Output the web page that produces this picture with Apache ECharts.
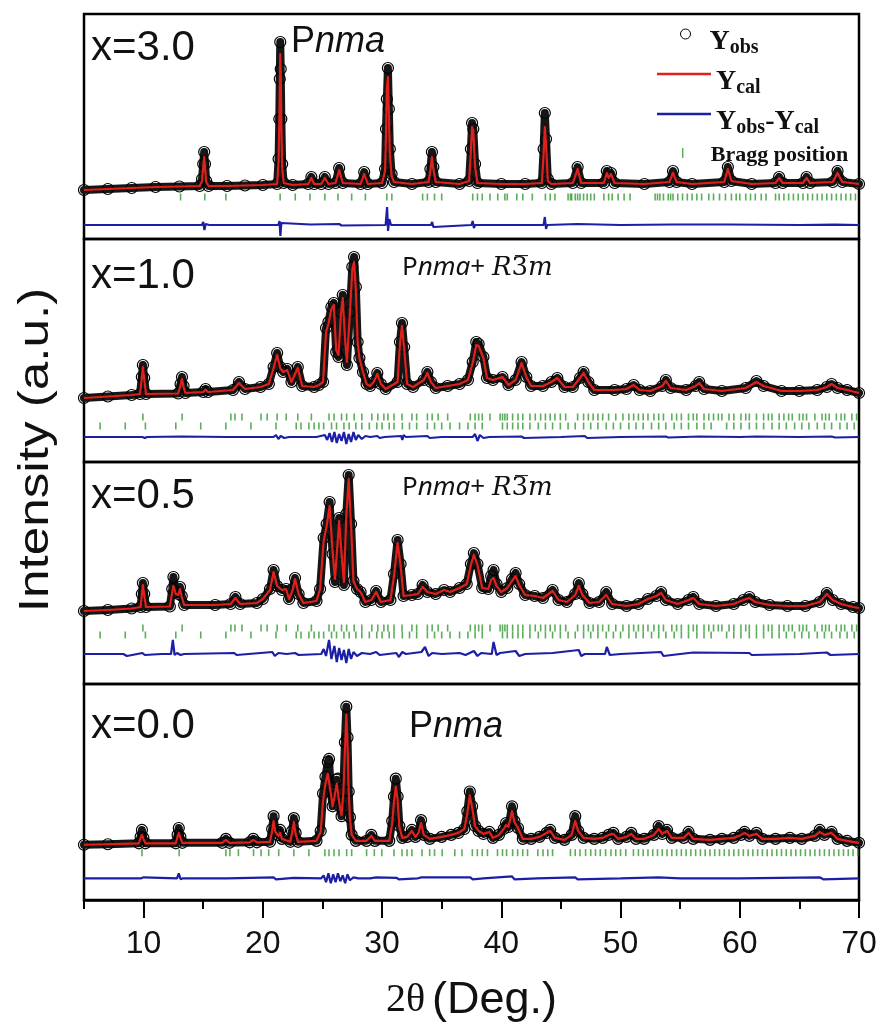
<!DOCTYPE html>
<html><head><meta charset="utf-8">
<script src="https://cdn.jsdelivr.net/npm/echarts@6/dist/echarts.min.js"></script>
<style>html,body{margin:0;padding:0;background:#fff}#c{width:883px;height:1024px}</style>
</head><body><div id="c"></div><script>
// ---------------- DATA ----------------
const xTickLabels = [10, 20, 30, 40, 50, 60, 70];
const xMinorTicks = [5, 15, 25, 35, 45, 55, 65];
const panelLabels = ['x=3.0', 'x=1.0', 'x=0.5', 'x=0.0'];
const phaseLabels = ['Pnma', 'Pnma+ R3m', 'Pnma+ R3m', 'Pnma'];
const legendNames = ['Yobs', 'Ycal', 'Yobs-Ycal', 'Bragg position'];

// profile rows: [2theta, Yobs, Ycal]
const p30_profile = [[5.0,49,49],[7.0,50,50],[9.0,51,51],[11.0,52,52],[13.0,52.5,52.5],[14.7,53,53],[14.9,60,58],[15.0,75,72],[15.08,87,82],[15.15,75,72],[15.25,58,57],[15.45,53,53],[17.0,53,53],[18.5,53.5,53.5],[20.0,54,54],[21.2,55,55],[21.32,80,78],[21.38,120,115],[21.42,160,150],[21.46,197,185],[21.5,170,165],[21.55,120,115],[21.62,75,72],[21.75,56,56],[22.5,54,54],[23.8,55,55],[24.07,62,61],[24.3,55,55],[24.9,55,55],[25.2,62,61],[25.5,55,55],[26.1,56,56],[26.4,71,69],[26.7,56,56],[28.2,55,55],[28.5,67,65],[28.8,55,55],[30.0,56,56],[30.25,70,68],[30.33,110,105],[30.4,140,150],[30.49,171,162],[30.57,130,125],[30.65,90,85],[30.8,65,63],[31.0,57,57],[32.5,55,55],[33.9,57,57],[34.05,70,68],[34.18,87,82],[34.3,72,70],[34.5,57,57],[36.5,55,55],[37.3,58,58],[37.45,90,88],[37.55,116,112],[37.65,110,108],[37.8,75,72],[38.0,56,56],[40.0,55,55],[42.0,55,55],[43.4,56,56],[43.55,90,85],[43.65,126,112],[43.75,100,95],[43.9,60,58],[44.2,55,55],[46.0,56,56],[46.4,72,70],[46.7,56,56],[48.6,56,56],[48.85,68,66],[49.0,62,61],[49.2,66,65],[49.5,56,56],[52.0,55,55],[54.1,57,57],[54.4,68,66],[54.7,57,57],[56.0,55,55],[58.7,57,57],[59.0,72,70],[59.3,58,58],[61.0,55,55],[63.0,56,56],[63.3,62,61],[63.6,56,56],[65.3,56,56],[65.6,62,61],[65.9,56,56],[67.8,57,57],[68.2,68,66],[68.6,57,57],[70.0,55,55]];
const p10_profile = [[5.0,64,64],[7.0,65.5,65.5],[9.0,67,67],[9.7,68,68],[9.85,85,84],[9.94,97,95],[10.05,84,83],[10.2,68,68],[12.9,68.5,68.5],[13.1,78,77],[13.22,85,83],[13.35,76,75],[13.5,69,69],[15.0,70,70],[15.2,73,72.5],[15.4,70,70],[17.5,72,72],[18.0,80,79],[18.5,73,73],[19.8,75,75],[20.5,78,78],[20.9,95,94],[21.2,109,107],[21.45,95,94],[21.7,90,90],[22.05,93,92],[22.4,80,80],[22.93,95,94],[23.3,76,76],[24.3,75,75],[24.7,77,77],[25.05,80,80],[25.3,134,130],[25.5,140,138],[25.75,155,153],[25.95,159,157],[26.15,110,112],[26.35,105,107],[26.55,150,148],[26.7,167,164],[26.9,120,122],[27.05,97,100],[27.3,150,148],[27.5,195,192],[27.65,205,200],[27.8,175,172],[27.95,120,120],[28.1,104,104],[28.4,90,90],[28.7,78,78],[29.0,76,76],[29.3,80,80],[29.6,89,88],[29.9,78,78],[30.3,73,73],[31.3,80,80],[31.5,120,118],[31.67,139,136],[31.85,115,114],[32.1,78,78],[32.6,75,75],[33.5,82,82],[33.8,90,89],[34.1,80,80],[34.5,74,74],[35.5,76,76],[36.5,78,78],[37.2,82,82],[37.6,100,99],[37.9,120,117],[38.1,118,116],[38.5,105,104],[38.8,84,84],[39.3,82,82],[40.1,85,85],[40.6,77,77],[41.2,82,82],[41.7,100,99],[42.1,85,85],[42.5,76,76],[43.5,76,76],[44.2,80,80],[44.7,84,84],[45.3,75,75],[46.0,75,75],[46.6,84,84],[46.9,90,89],[47.3,80,80],[47.8,72,72],[49.5,72,72],[50.5,73,73],[51.1,77,77],[51.6,72,72],[52.5,71,71],[53.5,76,76],[53.8,82,81],[54.2,74,74],[55.5,72,72],[56.3,76,76],[56.6,80,79],[57.0,73,73],[58.5,71,71],[60.5,74,74],[61.4,81,80],[62.0,76,76],[63.5,71,71],[65.0,71,71],[66.5,72,72],[67.3,75,75],[67.7,78,78],[68.2,74,74],[69.0,72,72],[70.0,69,69]];
const p05_profile = [[5.0,73,73],[7.0,74,74],[9.0,75.5,75.5],[9.75,77,77],[9.85,90,89],[9.94,101,99],[10.05,90,89],[10.2,77,77],[12.2,77.5,77.5],[12.4,95,92],[12.5,107,98],[12.7,92,90],[12.9,90,89],[13.05,97,95],[13.2,88,87],[13.4,79,79],[16.0,79,79],[17.3,80,80],[17.7,87,86],[18.1,80,80],[19.5,81,81],[20.0,85,85],[20.6,95,94],[20.9,114,112],[21.2,98,98],[21.6,94,94],[21.95,95,95],[22.2,85,85],[22.5,95,94],[22.7,106,105],[23.0,90,90],[23.4,81,81],[24.5,83,83],[24.8,95,95],[25.1,146,143],[25.35,160,158],[25.6,182,178],[25.85,130,132],[26.05,102,105],[26.25,140,138],[26.4,166,163],[26.6,130,130],[26.8,99,102],[27.0,170,168],[27.2,209,205],[27.4,160,158],[27.6,103,103],[27.9,95,95],[28.2,92,92],[28.6,82,82],[29.1,84,84],[29.5,93,92],[29.9,82,82],[30.7,84,84],[31.0,110,108],[31.3,144,141],[31.55,120,119],[31.8,88,88],[32.5,89,89],[33.0,90,90],[33.4,99,97],[33.8,92,92],[34.5,90,90],[35.2,94,94],[35.7,92,92],[36.5,96,96],[37.1,100,100],[37.45,120,119],[37.7,131,129],[38.0,120,119],[38.4,96,96],[38.9,95,95],[39.15,108,104],[39.35,114,106],[39.6,100,98],[40.0,92,92],[40.5,96,96],[40.9,105,103],[41.2,111,108],[41.5,100,99],[42.0,89,89],[42.8,88,88],[43.5,86,86],[44.3,94,93],[44.8,84,84],[45.5,82,82],[46.2,90,89],[46.5,101,98],[46.8,90,89],[47.4,81,81],[48.2,82,82],[48.8,92,89],[49.3,80,80],[50.5,78,78],[51.5,80,80],[52.3,85,85],[53.0,88,88],[53.4,92,91],[53.8,84,84],[54.8,80,80],[55.7,84,84],[56.1,87,86],[56.6,80,80],[58.0,78,78],[59.5,80,80],[60.3,84,84],[60.8,87,86],[61.3,82,82],[62.5,79,79],[64.0,78,78],[65.5,78,78],[66.7,82,82],[67.3,91,90],[67.8,84,84],[68.5,80,80],[69.5,77,77],[70.0,76,76]];
const p00_profile = [[5.0,56,56],[7.0,56.5,56.5],[9.6,57.5,57.5],[9.75,64,63],[9.86,71,66],[9.98,63,62],[10.15,57.5,57.5],[12.7,57.5,57.5],[12.85,66,64],[12.95,73,68],[13.08,64,63],[13.25,58,58],[16.6,58,58],[16.9,62,61],[17.2,58,58],[18.9,58.5,58.5],[19.2,62,61],[19.5,58.5,58.5],[20.6,59,59],[20.78,72,70],[20.9,85,80],[21.05,70,69],[21.3,66,65],[21.45,71,68],[21.6,62,62],[22.3,59,59],[22.45,70,68],[22.6,83,79],[22.75,68,67],[22.95,59,59],[24.5,60,60],[24.85,70,69],[25.05,108,100],[25.25,125,118],[25.45,140,128],[25.55,143,130],[25.7,110,108],[25.85,95,95],[26.0,105,104],[26.2,122,118],[26.3,123,120],[26.45,95,95],[26.6,85,86],[26.75,110,108],[26.88,160,150],[27.0,196,188],[27.1,165,160],[27.2,110,110],[27.3,84,84],[27.45,66,66],[27.8,60,60],[28.7,60,60],[29.1,66,65],[29.4,60,60],[30.6,60,60],[30.85,80,78],[31.0,105,100],[31.15,123,115],[31.3,105,102],[31.45,75,74],[31.7,63,63],[32.1,64,64],[32.5,71,70],[32.8,64,64],[33.05,68,68],[33.27,81,78],[33.5,66,66],[34.0,62,62],[35.0,64,64],[35.8,66,66],[36.4,68,68],[36.9,72,72],[37.15,90,88],[37.36,110,106],[37.55,95,94],[37.8,75,75],[38.1,70,70],[38.5,67,67],[39.0,69,69],[39.3,63,63],[39.8,66,66],[40.2,72,72],[40.4,78,76],[40.6,74,74],[40.9,95,90],[41.1,80,79],[41.4,73,73],[41.8,62,62],[42.5,62,62],[43.2,64,64],[43.8,68,68],[44.1,71,70],[44.5,63,63],[45.3,61,61],[45.9,66,66],[46.2,85,80],[46.45,70,70],[46.9,63,63],[47.8,62,62],[48.5,63,63],[49.0,66,66],[49.4,68,67],[49.8,62,62],[50.5,64,64],[50.9,68,67],[51.3,62,62],[52.0,62,62],[52.8,66,66],[53.2,75,72],[53.5,67,67],[53.9,71,70],[54.3,63,63],[55.3,63,63],[55.7,69,68],[56.1,62,62],[57.5,61,61],[58.5,62,62],[59.5,63,63],[60.1,66,66],[60.4,69,68],[60.8,65,65],[61.4,68,67],[61.9,62,62],[63.0,62,62],[64.2,63,63],[65.2,62,62],[66.3,65,65],[66.7,71,69],[67.1,66,66],[67.7,69,68],[68.2,62,62],[69.0,60,60],[70.0,58,58]];

// difference rows: [2theta, Yobs-Ycal]
const p30_diff = [[5,0],[14.9,0],[15.0,3],[15.1,-5],[15.2,1],[15.5,0],[21.3,0],[21.4,4],[21.47,-11],[21.55,2],[21.7,0],[24,0.5],[26.4,1],[26.6,-0.5],[30.3,0],[30.42,18],[30.5,-6],[30.6,6],[30.75,0],[34.1,0],[34.2,3],[34.3,-2],[34.4,0],[37.5,0],[37.6,4],[37.7,-3],[37.8,0],[43.55,0],[43.65,8],[43.75,-4],[43.85,0],[46.4,1],[46.5,-1],[50,0],[54.4,0.5],[59,0.5],[59.1,-0.5],[65,0],[68,0.3],[70,0]];
const p10_diff = [[5,0],[9.9,0],[10.0,2],[10.1,-1],[10.3,0],[13.2,0.5],[13.3,-0.5],[17,0],[20.9,0],[21.1,2],[21.3,-2],[21.5,1],[21.8,-1],[22.2,0],[24.5,0],[25.2,2],[25.4,-3],[25.6,4],[25.8,-5],[26.0,5],[26.2,-6],[26.4,3],[26.6,-4],[26.8,5],[27.0,-7],[27.2,3],[27.4,-5],[27.6,5],[27.8,-3],[28.0,2],[28.3,-2],[28.6,1],[29,0],[29.6,1],[29.8,-1],[30.2,0],[31.6,1],[31.7,-3],[31.8,2],[32,0],[33.8,1],[34,-1],[35,0],[37.6,0],[37.8,3],[38.0,-4],[38.2,2],[38.5,-1],[39,0],[41.7,0.5],[41.9,-1],[45,0],[47,1],[47.2,-1],[50,0],[53.8,0.5],[54,-0.5],[56.6,0.5],[60,0],[61.4,0.5],[65,0],[67.7,0.5],[68,-0.5],[70,0]];
const p05_diff = [[5,0],[8.3,0],[8.6,-2],[9.9,1],[10.1,-1],[11.5,0],[12.3,0],[12.45,14],[12.6,-1],[12.8,1],[13.1,-1],[13.4,0],[17.6,1],[17.8,-1],[20.8,2],[21.0,-2],[21.3,1],[22,0],[22.7,1],[23,-1],[24.9,0],[25.1,5],[25.3,-2],[25.55,14],[25.75,-5],[26.0,8],[26.2,-8],[26.4,6],[26.6,-6],[26.8,4],[27.0,-9],[27.2,5],[27.4,-5],[27.6,2],[27.9,-2],[28.3,1],[29,0],[29.5,2],[29.8,-1],[31.2,1],[31.4,-3],[31.7,2],[32,0],[33.3,2],[33.6,7],[33.9,-2],[34.2,1],[35,0],[36.5,1],[37.0,-1],[37.7,3],[38.0,-2],[38.3,1],[39.2,0],[39.35,12],[39.6,-1],[39.9,1],[41.2,3],[41.5,-2],[42,0],[44.3,1],[46.5,4],[46.7,-2],[47,0],[48.7,0],[48.85,7],[49.1,-1],[50,0],[53.4,2],[53.6,-2],[55,0],[56.1,1.5],[60.8,1],[61,-1],[65,0],[67.3,1.5],[67.6,-1],[70,0]];
const p00_diff = [[5,0],[9.8,0],[9.9,-2],[10.0,1],[12.8,0],[12.95,5],[13.1,-1],[13.3,0],[17,0],[20.9,1],[21.1,-1],[22.6,0.5],[24.9,0],[25.1,3],[25.3,-4],[25.5,5],[25.7,-5],[25.9,4],[26.1,-4],[26.3,5],[26.5,-3],[26.7,3],[26.9,-5],[27.1,4],[27.3,-2],[27.6,1],[28,0],[29,0],[29.5,1],[31.2,0.5],[31.4,-1],[33,0],[33.3,1],[37.4,1],[37.6,-1],[38.5,0],[40.9,2],[41.1,-1],[43,0],[46.2,1],[46.4,-1],[50,0],[53.2,1],[55,0],[60,0],[66.7,1],[67,-1],[70,0]];

// Bragg reflection positions (2theta)
const bragg30 = [13.1,15.13,16.9,21.45,22.72,23.95,25.2,26.3,27.45,28.6,30.4,30.82,33.4,33.8,34.4,35.0,37.6,38.0,38.4,39.05,39.7,40.3,40.5,41.3,41.8,42.6,43.7,44.1,44.5,45.6,45.8,45.9,46.2,46.4,46.6,46.9,47.2,47.5,47.8,48.6,49.0,49.3,49.8,50.3,50.8,52.9,53.1,53.3,53.6,54.0,54.2,54.4,54.8,55.2,55.6,56.0,56.4,56.8,57.4,57.8,58.3,58.8,59.3,59.7,60.0,60.5,60.9,61.3,61.8,62.2,63.0,63.3,63.7,64.1,64.5,64.9,65.3,65.7,66.1,66.5,66.9,67.3,67.7,68.1,68.5,68.9,69.3,69.7];
const braggPnma = [9.94,13.23,17.32,17.66,18.25,19.85,20.36,21.2,21.96,22.93,24.07,25.55,25.97,26.6,27.03,27.66,28.3,29.14,29.64,30.15,30.49,31.0,31.67,32.5,32.9,33.8,34.2,34.7,35.5,37.4,37.8,38.1,38.4,39.05,39.9,40.1,40.3,40.5,40.95,41.4,41.8,42.4,42.85,43.3,43.7,44.1,44.5,44.95,45.4,46.4,46.9,47.3,47.7,48.1,48.5,49.0,49.6,50.2,50.7,51.1,51.5,51.9,52.3,52.8,53.2,53.6,54.3,54.7,55.1,55.7,56.1,56.4,57.0,57.4,57.8,58.2,58.5,59.1,59.5,60.1,60.5,60.8,61.4,62.0,62.4,62.7,63.3,63.7,64.1,64.4,65.0,65.3,65.6,66.3,66.9,67.2,67.5,68.1,68.5,68.8,69.4,69.8];
const braggR3m = [6.35,8.46,10.15,12.7,14.79,16.9,19.0,21.1,22.8,23.2,23.86,24.3,24.7,25.1,25.76,26.18,26.8,27.24,27.8,28.3,28.93,29.56,30.0,30.6,31.0,31.7,32.3,32.9,33.8,34.4,35.0,35.7,36.5,37.2,37.8,38.4,40.1,40.5,40.95,41.4,41.8,42.4,43.1,43.7,44.3,44.95,45.6,46.2,46.9,47.5,48.1,48.8,49.4,50.0,50.7,51.3,51.9,52.6,53.2,53.8,54.5,55.1,55.7,56.4,57.0,57.6,58.9,59.5,60.1,60.8,61.4,62.0,62.7,63.3,63.9,64.6,65.2,65.8,66.5,67.1,67.7,68.4,69.0,69.6];
const bragg00 = [9.86,12.98,16.9,17.24,17.95,19.22,19.85,20.49,21.33,22.6,23.86,25.2,25.55,25.97,26.39,27.03,27.45,28.7,29.35,29.98,31.0,31.67,32.09,32.5,33.35,33.99,34.4,35.04,36.1,36.7,37.57,37.99,38.4,38.84,39.68,40.1,40.44,40.95,41.37,41.8,42.2,43.06,43.5,43.9,44.3,45.8,46.2,46.6,47.07,47.5,47.9,48.3,48.75,49.2,49.6,50.0,50.44,51.08,51.5,51.9,52.3,52.7,53.1,53.5,53.9,54.3,54.7,55.1,55.5,55.9,56.3,56.7,57.1,57.5,57.9,58.3,58.7,59.1,59.5,59.9,60.3,60.7,61.1,61.5,61.9,62.3,62.7,63.1,63.5,63.9,64.3,64.7,65.1,65.5,65.9,66.3,66.7,67.1,67.5,67.9,68.3,68.7,69.1,69.5,69.9];

// ---------------- LAYOUT / STYLE ----------------
const GL = 84, GR = 24;
const panels = [
  {profile: p30_profile, diff: p30_diff, bragg: [bragg30], top: 14, height: 225, diffLevel: 14, braggLevels: [42]},
  {profile: p10_profile, diff: p10_diff, bragg: [braggPnma, braggR3m], top: 239, height: 223, diffLevel: 25, braggLevels: [45, 36]},
  {profile: p05_profile, diff: p05_diff, bragg: [braggPnma, braggR3m], top: 462, height: 222, diffLevel: 30, braggLevels: [56, 49]},
  {profile: p00_profile, diff: p00_diff, bragg: [bragg00], top: 684, height: 219, diffLevel: 22, braggLevels: [48]}
];
const RED = '#e0201b', BLUE = '#1c1fa6', GREEN = '#339a33';

const grids = [], xAxes = [], yAxes = [], series = [];
panels.forEach((p, i) => {
  grids.push({left: GL, right: GR, top: p.top, height: p.height, show: true,
    borderColor: '#000', borderWidth: 2.5, backgroundColor: 'transparent'});
  const last = i === panels.length - 1;
  xAxes.push({
    gridIndex: i, type: 'value', min: 5, max: 70, show: last,
    axisLine: {show: true, lineStyle: {color: '#000', width: 2.5}},
    splitLine: {show: false},
    axisTick: {show: true, inside: false, length: 18, lineStyle: {color: '#000', width: 2}, customValues: xTickLabels},
    axisLabel: {show: true, customValues: xTickLabels, margin: 28, fontSize: 32,
      fontFamily: 'Liberation Sans, Arial, sans-serif', color: '#111'},
    name: last ? '{a|2θ}  {b|(Deg.)}' : '',
    nameLocation: 'middle', nameGap: 78,
    nameTextStyle: {rich: {
      a: {fontFamily: 'Liberation Serif, Times New Roman, serif', fontSize: 40, color: '#111'},
      b: {fontFamily: 'Liberation Sans, Arial, sans-serif', fontSize: 45, color: '#111'}
    }}
  });
  yAxes.push({gridIndex: i, type: 'value', min: 0, max: p.height, show: false, splitLine: {show: false}});
  series.push({
    type: 'line', name: 'Yobs', xAxisIndex: i, yAxisIndex: i,
    data: p.profile.map(r => [r[0], r[1]]),
    symbol: 'circle', symbolSize: 11, showSymbol: true,
    itemStyle: {color: 'rgba(255,255,255,0)', borderColor: '#000', borderWidth: 1.2},
    lineStyle: {color: '#161616', width: 8, join: 'round', cap: 'round'},
    z: 2, silent: true, animation: false, emphasis: {disabled: true}
  });
  series.push({
    type: 'line', name: 'Ycal', xAxisIndex: i, yAxisIndex: i,
    data: p.profile.map(r => [r[0], r[2]]),
    symbol: 'none', lineStyle: {color: RED, width: 2.2, join: 'round'},
    z: 4, silent: true, animation: false, emphasis: {disabled: true}
  });
  series.push({
    type: 'line', name: 'Yobs-Ycal', xAxisIndex: i, yAxisIndex: i,
    data: p.diff.map(d => [d[0], d[1] + p.diffLevel]),
    symbol: 'none', lineStyle: {color: BLUE, width: 2.2},
    z: 3, silent: true, animation: false, emphasis: {disabled: true}
  });
  p.bragg.forEach((list, k) => {
    series.push({
      type: 'scatter', name: 'Bragg position', xAxisIndex: i, yAxisIndex: i,
      data: list.map(t => [t, p.braggLevels[k]]),
      symbol: 'rect', symbolSize: [1.6, 7], itemStyle: {color: GREEN},
      z: 3, silent: true, animation: false, emphasis: {disabled: true}
    });
  });
});
// minor ticks on the bottom axis
xAxes.push({
  gridIndex: 3, type: 'value', min: 5, max: 70, position: 'bottom',
  axisLine: {show: false}, splitLine: {show: false},
  axisTick: {show: true, inside: false, length: 9, lineStyle: {color: '#000', width: 2}, customValues: xMinorTicks},
  axisLabel: {show: false}
});

const serifB = 'Liberation Serif, Times New Roman, serif';
// middle-aligned rich tokens: top padding p lowers the glyphs by p/2
const legendRich = {
  m: {fontFamily: serifB, fontWeight: 'bold', fontSize: 28, lineHeight: 34, padding: [16, 0, 0, 0], color: '#111'},
  s: {fontFamily: serifB, fontWeight: 'bold', fontSize: 20, lineHeight: 34, padding: [28, 0, 0, 0], color: '#111'},
  g: {fontFamily: serifB, fontWeight: 'bold', fontSize: 22, lineHeight: 34, padding: [4, 0, 0, 0], color: '#111'}
};
const legendText = {
  'Yobs': '{m|Y}{s|obs}',
  'Ycal': '{m|Y}{s|cal}',
  'Yobs-Ycal': '{m|Y}{s|obs}{m|-Y}{s|cal}',
  'Bragg position': '{g|Bragg position}'
};
const legendIcons = {
  'Yobs': {icon: 'circle', itemStyle: {color: 'rgba(255,255,255,0)', borderColor: '#000', borderWidth: 1}},
  'Ycal': {icon: 'path://M0,0H54V2.4H0Z', itemStyle: {color: RED}},
  'Yobs-Ycal': {icon: 'path://M0,0H54V2.4H0Z', itemStyle: {color: BLUE}},
  'Bragg position': {icon: 'path://M0,0H1V7H0Z', itemStyle: {color: GREEN}}
};
const legendBoxes = [[680, 10, 38], [657, 50, 54], [657, 90, 54], [682, 140, 46]];
const legends = legendNames.map((n, k) => ({
  data: [Object.assign({name: n}, legendIcons[n])],
  left: legendBoxes[k][0], top: legendBoxes[k][1], padding: 0,
  itemWidth: legendBoxes[k][2], itemHeight: 10,
  selectedMode: false,
  formatter: nm => legendText[nm],
  textStyle: {rich: legendRich}
}));

const sans = 'Liberation Sans, Arial, sans-serif';
const labelY = [48, 276, 496, 726];
const graphic = [];
panelLabels.forEach((t, i) => {
  graphic.push({type: 'text', x: 91, y: labelY[i], silent: true, style: {
    text: t, fontSize: 42, fontFamily: sans, fill: '#111',
    align: 'left', verticalAlign: 'middle', textAlign: 'left', textVerticalAlign: 'middle'}});
});
const phasePos = [[291, 42], [402, 268], [402, 488], [409, 727]];
const phaseRich = {
  n: {fontFamily: sans, fontSize: 36, color: '#111'},
  i: {fontFamily: sans, fontSize: 36, fontStyle: 'italic', color: '#111'},
  n2: {fontFamily: 'Noto Sans, sans-serif', fontSize: 26, color: '#111'},
  i2: {fontFamily: 'Noto Sans, sans-serif', fontSize: 26, fontStyle: 'italic', color: '#111'},
  r: {fontFamily: 'DejaVu Serif, serif', fontSize: 26, fontStyle: 'italic', color: '#111'},
  t: {fontFamily: 'DejaVu Serif, serif', fontSize: 26, color: '#111'}
};
phaseLabels.forEach((t, i) => {
  const txt = t === 'Pnma' ? '{n|P}{i|nma}' : '{n2|P}{i2|nma}{n2|+ }{r|R}{t|3\u0305}{r|m}';
  graphic.push({type: 'text', x: phasePos[i][0], y: phasePos[i][1], silent: true, style: {
    text: txt, rich: phaseRich, fill: '#111',
    align: 'left', verticalAlign: 'middle', textAlign: 'left', textVerticalAlign: 'middle'}});
});
graphic.push({type: 'text', x: 36, y: 450, rotation: Math.PI / 2, scaleX: 1.22, silent: true, style: {
  text: 'Intensity (a.u.)', fontSize: 42, fontFamily: sans, fill: '#111',
  align: 'center', verticalAlign: 'middle', textAlign: 'center', textVerticalAlign: 'middle'}});

const chart = echarts.init(document.getElementById('c'), null, {renderer: 'canvas'});
chart.setOption({
  animation: false,
  backgroundColor: '#fff',
  grid: grids, xAxis: xAxes, yAxis: yAxes,
  legend: legends,
  graphic: graphic,
  series: series
});
</script></body></html>
